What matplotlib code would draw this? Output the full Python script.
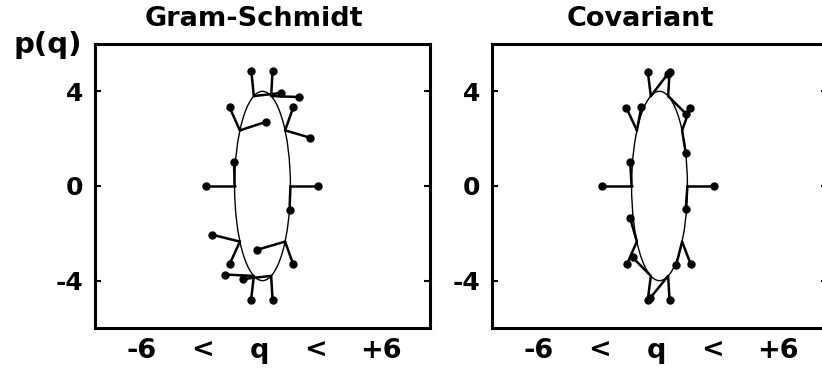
import numpy as np
import matplotlib
matplotlib.use('Agg')
import matplotlib.pyplot as plt
from matplotlib.patches import Ellipse

# points on the orbit where the vectors start
base_q = [1.0, 0.81, 0.31, -0.31, -0.81, -1.0, -0.81, -0.31, 0.31, 0.81]
base_p = [0.0, 2.35, 3.80, 3.80, 2.35, 0.0, -2.35, -3.80, -3.80, -2.35]

# Gram-Schmidt vector tips
gs_v1_q = [2.00, 1.71, 1.30, 0.67, 0.12, -2.03, -1.80, -1.35, -0.70, -0.18]
gs_v1_p = [0.00, 2.04, 3.76, 3.93, 2.71, 0.00, -2.06, -3.74, -3.93, -2.69]
gs_v2_q = [0.97, 1.10, 0.36, -0.40, -1.18, -1.02, -1.18, -0.41, 0.36, 1.10]
gs_v2_p = [-1.00, 3.32, 4.84, 4.84, 3.32, 1.02, -3.31, -4.82, -4.82, -3.31]

# covariant vector tips
cov_v1_q = [1.96, 1.10, 0.36, -0.42, -1.19, -2.05, -1.17, -0.42, 0.36, 1.12]
cov_v1_p = [0.00, 3.31, 4.83, 4.83, 3.31, 0.00, -3.31, -4.82, -4.82, -3.31]
cov_v2_q = [0.94, 0.94, 0.95, 0.30, -0.65, -1.05, -1.05, -0.96, -0.34, 0.60]
cov_v2_p = [-0.99, 1.39, 3.05, 4.74, 3.34, 1.02, -1.37, -3.02, -4.74, -3.33]

yticks = [-4, 0, 4]
xlabel_parts = ['-6', '<', 'q', '<', '+6']
xlabel_pos = [0.140, 0.322, 0.490, 0.657, 0.854]

FONT = 'DejaVu Sans'


def draw_panel(ax, v1q, v1p, v2q, v2p):
    ax.add_patch(Ellipse((0, 0), 2, 8, fill=False, lw=1.0, color='k'))
    for tq, tp in [(v1q, v1p), (v2q, v2p)]:
        ax.plot(np.vstack([base_q, tq]), np.vstack([base_p, tp]),
                color='k', lw=1.8, solid_capstyle='round')
        ax.plot(tq, tp, 'o', color='k', ms=5)
    ax.set_xlim(-6, 6)
    ax.set_ylim(-6, 6)
    ax.set_xticks([])
    ax.set_yticks(yticks)
    ax.set_yticklabels([str(t) for t in yticks], fontsize=18,
                       fontweight='bold', family=FONT)
    ax.tick_params(axis='y', direction='in', length=4.5, width=1.5,
                   right=True, pad=8.5)
    for s in ax.spines.values():
        s.set_linewidth(2.2)
    for part, x in zip(xlabel_parts, xlabel_pos):
        ax.text(x, -0.105, part, transform=ax.transAxes, ha='center',
                va='baseline', fontsize=19.5, fontweight='bold', family=FONT)


fig = plt.figure(figsize=(8.22, 3.74), dpi=100)
ax1 = fig.add_axes([95 / 822, 46 / 374, 335 / 822, 284 / 374])
ax2 = fig.add_axes([492 / 822, 46 / 374, 335 / 822, 284 / 374])

draw_panel(ax1, gs_v1_q, gs_v1_p, gs_v2_q, gs_v2_p)
draw_panel(ax2, cov_v1_q, cov_v1_p, cov_v2_q, cov_v2_p)

fig.text(254 / 822, 1 - 19 / 374, 'Gram-Schmidt', ha='center', va='center',
         fontsize=19.5, fontweight='bold', family=FONT)
fig.text(640 / 822, 1 - 19 / 374, 'Covariant', ha='center', va='center',
         fontsize=19.5, fontweight='bold', family=FONT)
fig.text(47.5 / 822, 1 - 45 / 374, 'p(q)', ha='center', va='center',
         fontsize=21, fontweight='bold', family=FONT)

fig.savefig('out.png', dpi=100)
